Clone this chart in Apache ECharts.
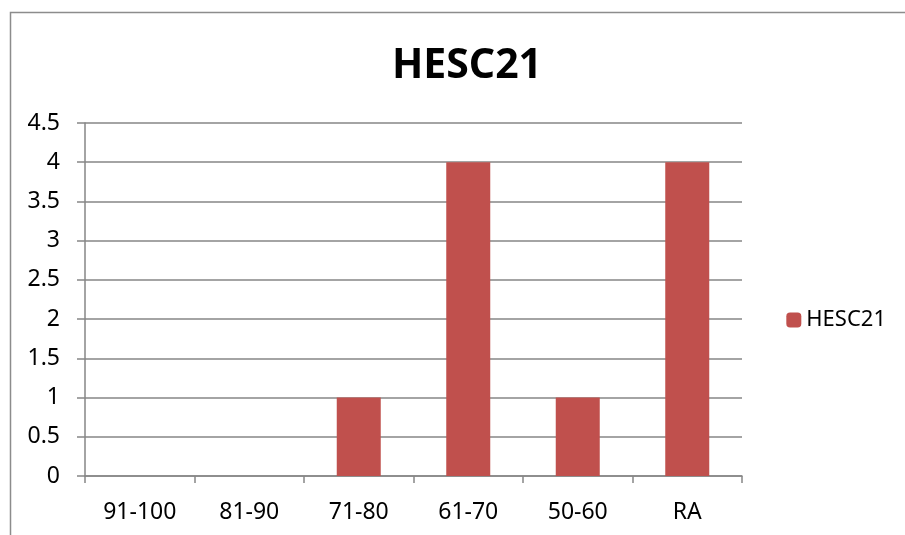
<!DOCTYPE html>
<html><head><meta charset="utf-8">
<script src="https://cdn.jsdelivr.net/npm/echarts@6/dist/echarts.min.js"></script>
<style>html,body{margin:0;padding:0;background:#fff}#c{width:905px;height:535px}</style>
</head><body><div id="c"></div>
<script>
const categories = ['91-100','81-90','71-80','61-70','50-60','RA'];
const seriesName = 'HESC21';
const values = [0, 0, 1, 4, 1, 4];
const yTicks = {min: 0, max: 4.5, interval: 0.5};

const chart = echarts.init(document.getElementById('c'));
const font = 'Noto Sans';
chart.setOption({
  animation: false,
  backgroundColor: '#fff',
  title: {text: 'HESC21', left: 462, top: 41, textAlign: 'center',
    textStyle: {fontFamily: font, fontWeight: 'bold', fontSize: 41, color: '#000'}},
  legend: {right: 14, top: 304, itemWidth: 15, itemHeight: 15, itemGap: 8,
    textStyle: {fontFamily: font, fontSize: 22, color: '#000'}, data: [seriesName]},
  grid: {left: 85, right: 163, top: 123, bottom: 59},
  xAxis: {type: 'category', data: categories,
    axisLine: {lineStyle: {color: '#868686', width: 1.5}},
    axisTick: {show: true, length: 7, lineStyle: {color: '#868686', width: 1.5}},
    axisLabel: {margin: 25, fontFamily: font, fontSize: 23, color: '#000'}},
  yAxis: {type: 'value', min: yTicks.min, max: yTicks.max, interval: yTicks.interval,
    axisLine: {show: true, lineStyle: {color: '#868686', width: 1.5}},
    axisTick: {show: true, length: 8, lineStyle: {color: '#868686', width: 1.5}},
    axisLabel: {margin: 25, fontFamily: font, fontSize: 23, color: '#000'},
    splitLine: {lineStyle: {color: '#868686', width: 1.5}}},
  series: [{name: seriesName, type: 'bar', data: values, barWidth: 44,
    itemStyle: {color: '#C0504D'}}],
  graphic: [{type: 'rect', left: 8, top: 10, shape: {width: 1000, height: 1000},
    style: {fill: 'none', stroke: '#8c8c8c', lineWidth: 1.5}, silent: true}]
});
</script></body></html>
